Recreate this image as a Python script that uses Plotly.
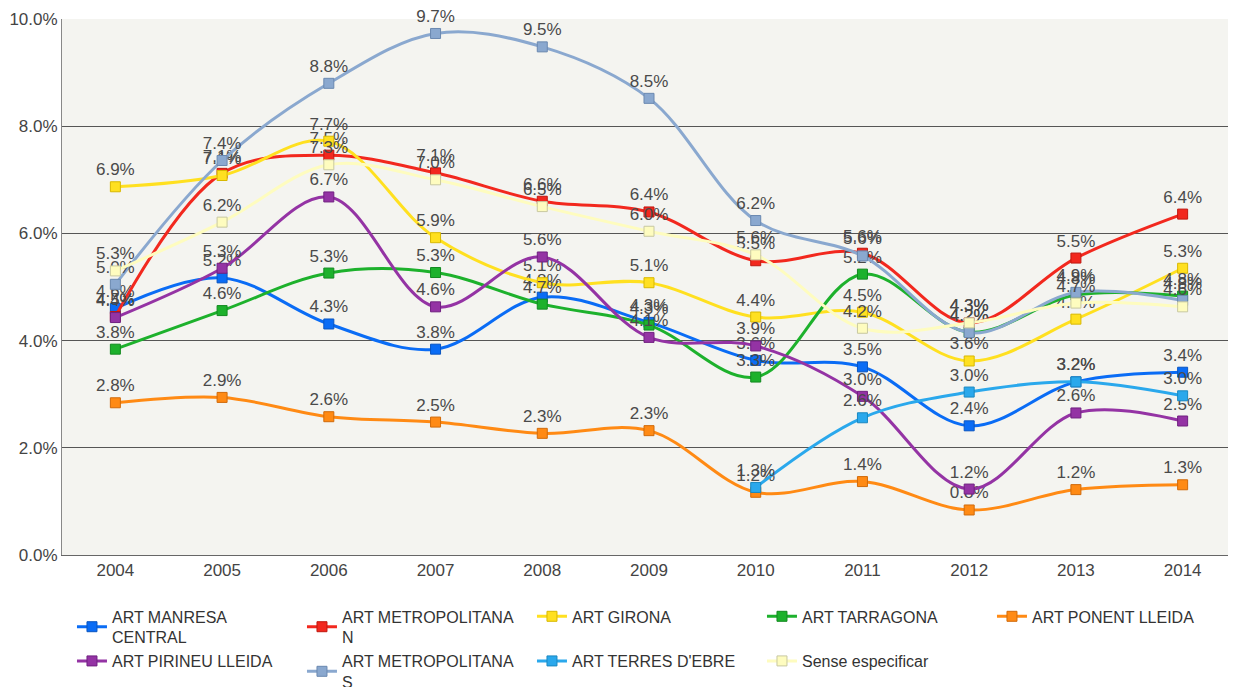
import plotly.graph_objects as go

years = ["2004", "2005", "2006", "2007", "2008", "2009", "2010", "2011", "2012", "2013", "2014"]

series_names = [
    "ART MANRESA<br>CENTRAL",
    "ART METROPOLITANA<br>N",
    "ART GIRONA",
    "ART TARRAGONA",
    "ART PONENT LLEIDA",
    "ART PIRINEU LLEIDA",
    "ART METROPOLITANA<br>S",
    "ART TERRES D'EBRE",
    "Sense especificar",
]

manresa = [4.60, 5.17, 4.31, 3.84, 4.81, 4.34, 3.63, 3.51, 2.41, 3.23, 3.41]
metro_n = [4.45, 7.12, 7.46, 7.13, 6.60, 6.40, 5.49, 5.63, 4.33, 5.54, 6.36]
girona = [6.87, 7.08, 7.72, 5.92, 5.08, 5.08, 4.44, 4.53, 3.62, 4.40, 5.35]
tarragona = [3.84, 4.56, 5.26, 5.27, 4.68, 4.29, 3.32, 5.24, 4.16, 4.85, 4.83]
ponent = [2.84, 2.94, 2.58, 2.48, 2.27, 2.32, 1.17, 1.37, 0.84, 1.22, 1.31]
pirineu = [4.43, 5.35, 6.68, 4.63, 5.56, 4.06, 3.90, 2.96, 1.23, 2.65, 2.50]
metro_s = [5.05, 7.36, 8.80, 9.73, 9.48, 8.52, 6.24, 5.58, 4.15, 4.90, 4.75]
terres = [None, None, None, None, None, None, 1.26, 2.56, 3.04, 3.23, 2.97]
sense = [5.30, 6.21, 7.28, 7.00, 6.50, 6.04, 5.60, 4.23, 4.33, 4.70, 4.63]

values = [manresa, metro_n, girona, tarragona, ponent, pirineu, metro_s, terres, sense]
colors = ["#0a6cf5", "#f2281e", "#ffe020", "#1db12c", "#ff8a14",
          "#9433a4", "#8aa8cf", "#2aa8ec", "#fefcbf"]
marker_edge = ["#0a55c0", "#c01810", "#d8b800", "#138a20", "#d06a0a",
               "#702080", "#6a88b0", "#1a88c0", "#c8c8a0"]

fig = go.Figure()
for name, vals, col, edge in zip(series_names, values, colors, marker_edge):
    labels = [None if v is None else f"{v:.1f}%" for v in vals]
    fig.add_trace(go.Scatter(
        x=years, y=vals, name=name,
        mode="lines+markers+text",
        text=labels, textposition="top center",
        textfont=dict(family="Liberation Sans, Arial, sans-serif", size=17, color="#4a4a4a"),
        line=dict(color=col, width=3, shape="spline", smoothing=1.0),
        marker=dict(symbol="square", size=10, color=col,
                    line=dict(color=edge, width=1)),
        connectgaps=False,
        cliponaxis=False,
        hoverinfo="skip",
    ))

fig.update_layout(
    width=1228, height=679,
    margin=dict(l=54, r=0, t=11, b=132),
    paper_bgcolor="white",
    plot_bgcolor="#f4f4f0",
    font=dict(family="Liberation Sans, Arial, sans-serif", size=17, color="#444444"),
    showlegend=True,
    legend=dict(
        orientation="h",
        xref="container", yref="container",
        x=0.0521, y=0.129, xanchor="left", yanchor="top",
        entrywidth=185, entrywidthmode="pixels",
        font=dict(family="Liberation Sans, Arial", size=16, color="#333333"),
        tracegroupgap=0, itemwidth=30,
    ),
)
fig.update_xaxes(
    type="category", range=[-0.5, 10.5], automargin=False,
    showgrid=False, showline=True, linecolor="#666666", linewidth=1,
    ticks="", tickfont=dict(size=17, color="#444444"),
)
fig.update_yaxes(
    range=[0, 10], dtick=2, tick0=0, automargin=False,
    tickformat=".1f", ticksuffix="%",
    showgrid=True, gridcolor="#555555", gridwidth=1,
    showline=True, linecolor="#888888", linewidth=1,
    zeroline=False,
    tickfont=dict(size=17, color="#444444"),
)

fig.write_html("out.html")
